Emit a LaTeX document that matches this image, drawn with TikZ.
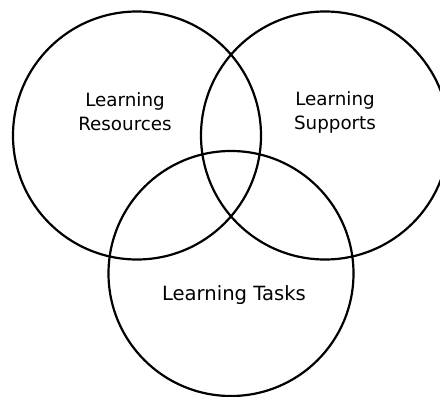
\documentclass[tikz,border=0pt]{standalone}
\usepackage{fontspec}
\setmainfont{DejaVu Sans}
\begin{document}
\begin{tikzpicture}[x=1pt,y=1pt,
  venn/.style={circle,draw=black,line width=2.2pt,inner sep=0pt,outer sep=0pt},
  lbl/.style={align=center,font=\fontsize{18.3}{24}\selectfont,inner sep=0pt,anchor=base}]
\useasboundingbox (0,0) rectangle (440,397);
\clip (0,0) rectangle (440,397);
\fill[white] (0,0) rectangle (440,397);
\node[venn,minimum size=248pt] (cres) at (137,261.5) {};
\node[venn,minimum size=248pt] (csup) at (325,261.5) {};
\node[venn,minimum size=245pt] (ctask) at (231,123.5) {};
\node[lbl] (lres) at (125,266) {Learning\\Resources};
\node[lbl] (lsup) at (335,267) {Learning\\Supports};
\node[lbl,font=\fontsize{19.6}{24}\selectfont] (ltask) at (234,96) {Learning Tasks};
\end{tikzpicture}
\end{document}
